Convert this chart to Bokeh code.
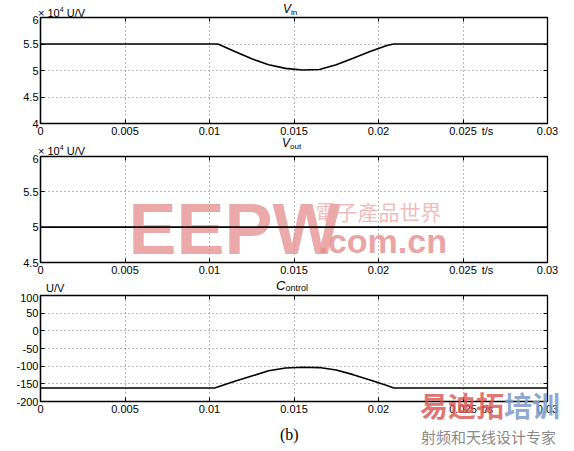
from bokeh.plotting import figure
from bokeh.models import FixedTicker, LinearAxis, Label, Range1d, Div
from bokeh.layouts import column
from bokeh.embed import file_html
from bokeh.resources import INLINE

# ---- data ----
x_ticks = [0, 0.005, 0.01, 0.015, 0.02, 0.025, 0.03]
x_tick_labels = ["0", "0.005", "0.01", "0.015", "0.02", "0.025", "0.03"]
x_unit_pos = 0.02645
x_unit_text = "t/s"

vin_t = [0, 0.0105, 0.0115, 0.0125, 0.0135, 0.0145, 0.0155, 0.0165, 0.0175, 0.0185, 0.0195, 0.0205, 0.0209, 0.03]
vin_v = [5.5, 5.5, 5.36, 5.22, 5.11, 5.04, 5.01, 5.02, 5.11, 5.23, 5.36, 5.47, 5.5, 5.5]  # x10^4 U/V

vout_t = [0, 0.03]
vout_v = [5.0, 5.0]  # x10^4 U/V

ctl_t = [0, 0.0103, 0.0115, 0.0125, 0.0135, 0.0145, 0.0155, 0.0165, 0.0175, 0.0185, 0.0195, 0.0205, 0.0209, 0.03]
ctl_v = [-162, -162, -143, -128, -113, -105, -103, -104, -111, -124, -139, -155, -162, -162]

vin_yticks = [4, 4.5, 5, 5.5, 6]
vin_ylabels = ["4", "4.5", "5", "5.5", "6"]
vout_yticks = [4.5, 5, 5.5, 6]
vout_ylabels = ["4.5", "5", "5.5", "6"]
ctl_yticks = [-200, -150, -100, -50, 0, 50, 100]
ctl_ylabels = ["-200", "-150", "-100", "-50", "0", "50", "100"]

FONT = "Liberation Sans"
W = 573


def hidden_axis(ticks):
    return LinearAxis(ticker=FixedTicker(ticks=ticks), major_tick_in=4, major_tick_out=0,
                      minor_tick_in=0, minor_tick_out=0, major_label_text_font_size="1px",
                      major_label_standoff=0, axis_line_color=None, major_label_text_alpha=0,
                      major_tick_line_color="black")


def make_fig(height, top, bottom, yr, yticks, ylabels):
    p = figure(width=W, height=height, output_backend="svg", toolbar_location=None,
               x_range=Range1d(0, 0.03), y_range=Range1d(*yr), x_axis_location=None,
               min_border_left=40, min_border_right=W - 547,
               min_border_top=top, min_border_bottom=bottom)
    p.background_fill_color = "white"
    p.border_fill_color = "white"
    p.outline_line_color = "black"
    p.outline_line_width = 1.3
    ax = p.yaxis[0]
    ax.ticker = FixedTicker(ticks=yticks)
    ax.major_label_overrides = {t: l for t, l in zip(yticks, ylabels)}
    ax.major_tick_in = 4
    ax.major_tick_out = 0
    ax.minor_tick_in = 0
    ax.minor_tick_out = 0
    ax.major_label_standoff = 2
    ax.major_label_text_font = FONT
    ax.major_label_text_font_size = "11px"
    ax.major_label_text_color = "black"
    ax.axis_line_color = "black"
    ax.axis_line_width = 1.3
    ax.major_tick_line_color = "black"
    # inward tick marks on bottom / top / right edges
    p.add_layout(hidden_axis(x_ticks), "below")
    # bottom tick labels (with the unit text) on a second axis without tick marks
    lab_ticks = x_ticks + [x_unit_pos]
    lab_text = x_tick_labels + [x_unit_text]
    lab_ax = LinearAxis(ticker=FixedTicker(ticks=lab_ticks),
                        major_label_overrides={t: l for t, l in zip(lab_ticks, lab_text)},
                        major_tick_in=0, major_tick_out=0, minor_tick_in=0, minor_tick_out=0,
                        major_tick_line_color=None, axis_line_color=None, major_label_standoff=1,
                        major_label_text_font=FONT, major_label_text_font_size="11px",
                        major_label_text_color="black")
    p.add_layout(lab_ax, "below")
    p.add_layout(hidden_axis(x_ticks), "above")
    p.add_layout(hidden_axis(yticks), "right")
    p.xgrid[0].ticker = FixedTicker(ticks=x_ticks)
    p.ygrid[0].ticker = FixedTicker(ticks=yticks)
    for g in (p.xgrid[0], p.ygrid[0]):
        g.grid_line_color = "black"
        g.grid_line_alpha = 0.55
        g.grid_line_dash = "1 3"
        g.grid_line_width = 1
    return p


def lab(p, x, y, text, size="11px", style="normal", align="left", color="black", font=FONT,
        alpha=1.0, level="annotation"):
    p.add_layout(Label(x=x, y=y, text=text, text_font=font, text_font_size=size,
                       text_font_style=style, text_align=align, text_baseline="middle",
                       text_color=color, text_alpha=alpha, level=level))


def sx(px):
    return (px - 40) / 507 * 0.03


def span(left, top, html, size=11, extra="", lh=None):
    lh = lh if lh is not None else int(size * 1.2)
    return (f'<span style="position:absolute;left:{left}px;top:{top}px;font-size:{size}px;'
            f'line-height:{lh}px;white-space:nowrap;{extra}">{html}</span>')


def band(h, spans):
    inner = "".join(spans)
    html = (f'<div style="position:relative;width:{W}px;height:{h}px;font-family:\'{FONT}\';'
            f'color:black;overflow:visible;">{inner}</div>')
    return Div(text=html, width=W, height=h, margin=0, styles={"overflow": "visible", "z-index": "5"})


title_in = '<i style="font-size:12px">V</i><span style="font-size:8px;position:relative;top:2px">in</span>'
title_out = '<i style="font-size:12px">V</i><span style="font-size:8px;position:relative;top:2px">out</span>'
title_ctl = ('<i style="font-size:13px">C</i><span style="font-size:9px;position:relative;top:1px">'
             'ontrol</span>')
unit_e4 = '× 10<sup style="font-size:7px">4</sup> U/V'

# ---- header 1 ----
h1 = band(15, [span(38, 3, unit_e4), span(283, 2, title_in, 12)])
# ---- figure 1: Vin ----
p1 = make_fig(124, 2, 16, (4, 6), vin_yticks, vin_ylabels)
p1.line(vin_t, vin_v, line_color="black", line_width=1.6)

# ---- header 2 ----
h2 = band(15, [span(282, -3, title_out, 12), span(38, 2, unit_e4)])
# ---- figure 2: Vout ----
p2 = make_fig(124, 2, 15, (4.5, 6), vout_yticks, vout_ylabels)
k2 = 1.5 / 107
lab(p2, sx(128), 6 - 73 * k2, "EEPW", size="72px", style="bold", color="#e48c8c", alpha=0.75, level="underlay")
lab(p2, sx(315), 6 - 55 * k2, "電子產品世界", size="21px", color="#eeaaaa", font="Noto Sans CJK TC",
    alpha=0.8, level="underlay")
lab(p2, sx(318), 6 - 85 * k2, ".com.cn", size="34px", style="bold", color="#e48c8c", alpha=0.8, level="underlay")
p2.line(vout_t, vout_v, line_color="black", line_width=1.6)

# ---- header 3 ----
h3 = band(15, [span(276, 0, title_ctl, 13), span(46, 4, "U/V")])
# ---- figure 3: Control ----
p3 = make_fig(124, 2, 16, (-200, 100), ctl_yticks, ctl_ylabels)
p3.line(ctl_t, ctl_v, line_color="black", line_width=1.6)

# ---- footer ----
foot = band(32, [
    span(420, -25, '<span style="color:#d9534f;opacity:0.8">易迪拓</span>'
                   '<span style="color:#7d9acb;opacity:0.85">培训</span>', 28,
         "font-family:'Noto Sans CJK SC';font-weight:bold;", lh=26),
    span(280, 8, "(b)", 16, "font-family:'Liberation Serif';"),
    span(421, 12, "射频和天线设计专家", 15, "font-family:'Noto Sans CJK SC';color:#8a8a8a;", lh=15),
])

layout = column(h1, p1, h2, p2, h3, p3, foot, spacing=0)
open("out.html", "w").write(file_html(layout, INLINE))
